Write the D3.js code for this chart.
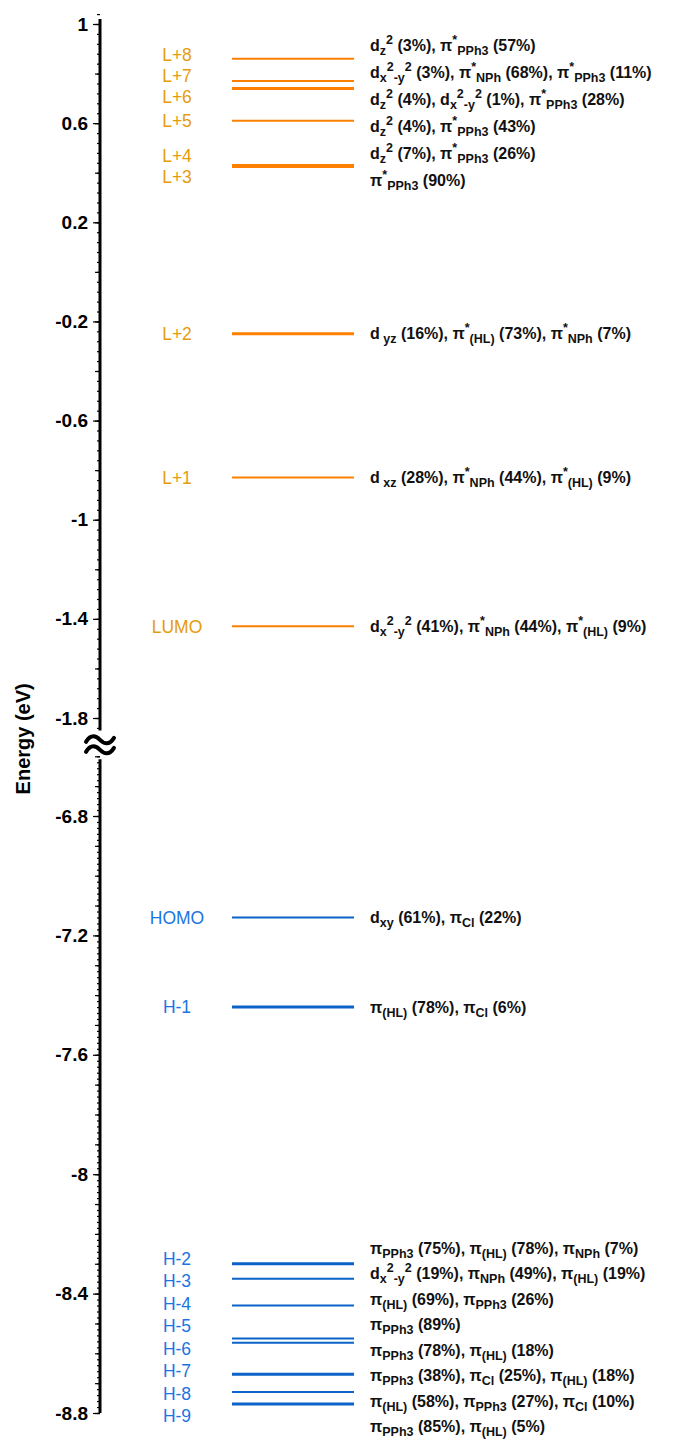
<!DOCTYPE html>
<html>
<head>
<meta charset="utf-8">
<script src="https://cdn.jsdelivr.net/npm/d3@7"></script>
<style>
  body { margin: 0; background: #fff; }
  svg { display: block; font-family: "Liberation Sans", Arial, sans-serif; }
</style>
</head>
<body>
<div id="chart"></div>
<script>
// unoccupied orbitals (top block)
var virtualNames = ["L+8", "L+7", "L+6", "L+5", "L+4", "L+3", "L+2", "L+1", "LUMO"];
var virtualEnergies = [0.86, 0.77, 0.74, 0.61, 0.431, 0.423, -0.25, -0.83, -1.43];
var virtualComps = [
  "d_{z}^{2} (3%), π^{*}_{PPh3} (57%)",
  "d_{x}^{2}_{-y}^{2} (3%), π^{*}_{NPh} (68%), π^{*}_{PPh3} (11%)",
  "d_{z}^{2} (4%), d_{x}^{2}_{-y}^{2} (1%), π^{*}_{PPh3} (28%)",
  "d_{z}^{2} (4%), π^{*}_{PPh3} (43%)",
  "d_{z}^{2} (7%), π^{*}_{PPh3} (26%)",
  "π^{*}_{PPh3} (90%)",
  "d_{ yz} (16%), π^{*}_{(HL)} (73%), π^{*}_{NPh} (7%)",
  "d_{ xz} (28%), π^{*}_{NPh} (44%), π^{*}_{(HL)} (9%)",
  "d_{x}^{2}_{-y}^{2} (41%), π^{*}_{NPh} (44%), π^{*}_{(HL)} (9%)"
];

// occupied orbitals (bottom block)
var occupiedNames = ["HOMO", "H-1", "H-2", "H-3", "H-4", "H-5", "H-6", "H-7", "H-8", "H-9"];
var occupiedEnergies = [-7.14, -7.44, -8.30, -8.35, -8.44, -8.55, -8.565, -8.67, -8.73, -8.77];
var occupiedComps = [
  "d_{xy} (61%), π_{Cl} (22%)",
  "π_{(HL)} (78%), π_{Cl} (6%)",
  "π_{PPh3} (75%), π_{(HL)} (78%), π_{NPh} (7%)",
  "d_{x}^{2}_{-y}^{2} (19%), π_{NPh} (49%), π_{(HL)} (19%)",
  "π_{(HL)} (69%), π_{PPh3} (26%)",
  "π_{PPh3} (89%)",
  "π_{PPh3} (78%), π_{(HL)} (18%)",
  "π_{PPh3} (38%), π_{Cl} (25%), π_{(HL)} (18%)",
  "π_{(HL)} (58%), π_{PPh3} (27%), π_{Cl} (10%)",
  "π_{PPh3} (85%), π_{(HL)} (5%)"
];

var upperTicks = [1, 0.6, 0.2, -0.2, -0.6, -1, -1.4, -1.8];
var lowerTicks = [-6.8, -7.2, -7.6, -8, -8.4, -8.8];
var axisTitle = "Energy (eV)";

var width = 687, height = 1442;
var axisX = 100, lineX1 = 232, lineX2 = 354, nameX = 177, compX = 370;
var orangeText = "#e59c0c", orangeLine = "#ff8000";
var blueText = "#1a74e2", blueLine = "#0b62c8";
var thick = new Set(["L+6", "L+2", "H-1", "H-2", "H-7", "H-9"]);

var svg = d3.select("#chart").append("svg")
  .attr("width", width)
  .attr("height", height);

var yTop = d3.scaleLinear().domain([1, -1.8]).range([24, 718]);
var yBot = d3.scaleLinear().domain([-6.8, -8.8]).range([816, 1413]);
var fmt = function (d) { return String(+d.toFixed(1)); };

// axis pieces
function drawAxis(scale, majors, mediumStep, minorStep, from, to) {
  var g = svg.append("g").attr("transform", "translate(" + axisX + ",0)");
  var lo = Math.min(from, to), hi = Math.max(from, to);
  var minors = d3.range(Math.round(lo / minorStep), Math.round(hi / minorStep) + 1)
    .map(function (k) { return +(k * minorStep).toFixed(3); });
  var mediums = d3.range(Math.round(lo / mediumStep), Math.round(hi / mediumStep) + 1)
    .map(function (k) { return +(k * mediumStep).toFixed(3); });
  g.append("g").call(d3.axisLeft(scale).tickValues(minors).tickSize(3).tickFormat(""));
  g.append("g").call(d3.axisLeft(scale).tickValues(mediums).tickSize(5).tickFormat(""));
  g.append("g").attr("class", "major")
    .call(d3.axisLeft(scale).tickValues(majors).tickSize(7).tickPadding(5).tickFormat(fmt));
  g.selectAll(".domain").remove();
  g.selectAll(".tick line").attr("stroke", "#000").attr("stroke-width", 1.2);
  g.selectAll(".major text")
    .attr("fill", "#000")
    .style("font-size", "19px")
    .style("font-weight", "bold");
  g.append("line")
    .attr("x1", 0).attr("x2", 0)
    .attr("y1", scale(from)).attr("y2", scale(to))
    .attr("stroke", "#000")
    .attr("stroke-width", 3);
}
drawAxis(yTop, upperTicks, 0.2, 0.04, 1.02, -1.85);
drawAxis(yBot, lowerTicks, 0.1, 0.02, -6.61, -8.8);

// break mark, two wavy strokes
var breakY = (yTop(-1.85) + yBot(-6.61)) / 2;
[-5, 5].forEach(function (dy) {
  var y0 = breakY + dy;
  svg.append("path")
    .attr("d", "M" + (axisX - 14) + "," + (y0 + 2) +
      " C" + (axisX - 9) + "," + (y0 - 6) + " " + (axisX - 4) + "," + (y0 - 4) + " " + axisX + "," + y0 +
      " S" + (axisX + 9) + "," + (y0 + 6) + " " + (axisX + 14) + "," + (y0 - 2))
    .attr("fill", "none")
    .attr("stroke", "#000")
    .attr("stroke-width", 4)
    .attr("stroke-linecap", "round");
});

svg.append("text")
  .attr("transform", "translate(30," + (breakY - 6) + ") rotate(-90)")
  .attr("text-anchor", "middle")
  .style("font-size", "20px")
  .style("font-weight", "bold")
  .text(axisTitle);

// spread labels so they do not overlap
function spread(ys, gap) {
  var order = d3.range(ys.length).sort(function (a, b) { return ys[a] - ys[b]; });
  var groups = [];
  order.forEach(function (i) {
    groups.push({ idx: [i], sum: ys[i] });
    while (groups.length > 1) {
      var g = groups[groups.length - 1], p = groups[groups.length - 2];
      var pEnd = p.sum / p.idx.length + (p.idx.length - 1) / 2 * gap;
      var gStart = g.sum / g.idx.length - (g.idx.length - 1) / 2 * gap;
      if (gStart - pEnd >= gap) break;
      p.idx = p.idx.concat(g.idx);
      p.sum += g.sum;
      groups.pop();
    }
  });
  var out = [];
  groups.forEach(function (g) {
    var c = g.sum / g.idx.length;
    g.idx.forEach(function (i, k) { out[i] = c + (k - (g.idx.length - 1) / 2) * gap; });
  });
  return out;
}

// rich text: _{sub} ^{sup}
function richText(sel, str) {
  var parts = str.match(/_\{[^}]*\}|\^\{[^}]*\}|[^_^]+/g);
  var cur = 0;
  parts.forEach(function (p) {
    var off = 0, txt = p, small = false;
    if (p[0] === "_") { off = 4; txt = p.slice(2, -1); small = true; }
    if (p[0] === "^") { off = -7; txt = p.slice(2, -1); small = true; }
    sel.append("tspan")
      .attr("dy", off - cur)
      .style("font-size", small ? "12.5px" : null)
      .text(txt);
    cur = off;
  });
}

function drawLevels(scale, names, energies, comps, textCol, lineCol, nameGap, compGap) {
  var g = svg.append("g");
  var ys = energies.map(function (e) { return scale(e); });
  var nameY = spread(ys, nameGap);
  var compY = spread(ys, compGap);
  g.selectAll("line.level")
    .data(energies)
    .enter()
    .append("line")
    .attr("class", "level")
    .attr("x1", lineX1)
    .attr("x2", lineX2)
    .attr("y1", function (d) { return scale(d); })
    .attr("y2", function (d) { return scale(d); })
    .attr("stroke", lineCol)
    .attr("stroke-width", function (d, i) { return thick.has(names[i]) ? 3 : 2; });
  g.selectAll("text.name")
    .data(names)
    .enter()
    .append("text")
    .attr("class", "name")
    .attr("x", nameX)
    .attr("y", function (d, i) { return nameY[i]; })
    .attr("dy", "0.36em")
    .attr("text-anchor", "middle")
    .attr("fill", textCol)
    .style("font-size", "17.5px")
    .text(function (d) { return d; });
  comps.forEach(function (c, i) {
    var t = g.append("text")
      .attr("x", compX)
      .attr("y", compY[i] + 5.5)
      .attr("fill", "#111")
      .style("font-size", "16px")
      .style("font-weight", "bold");
    richText(t, c);
  });
}
drawLevels(yTop, virtualNames, virtualEnergies, virtualComps, orangeText, orangeLine, 21, 27);
drawLevels(yBot, occupiedNames, occupiedEnergies, occupiedComps, blueText, blueLine, 22.5, 25.5);
</script>
</body>
</html>
